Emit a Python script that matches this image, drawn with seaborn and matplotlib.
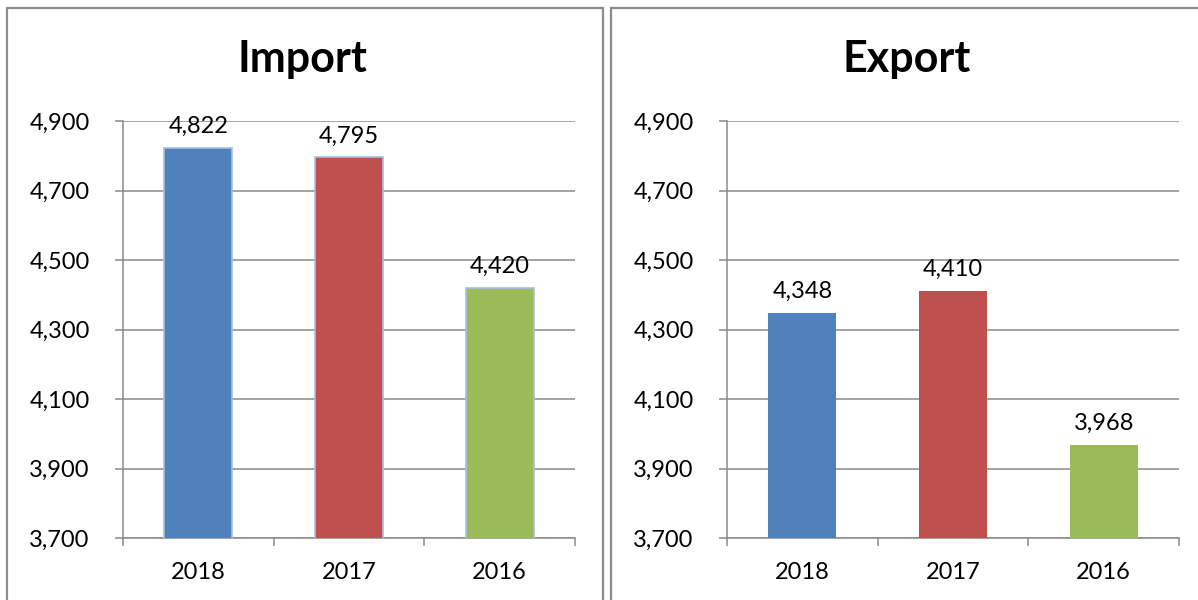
import pandas as pd
import seaborn as sns
import matplotlib.pyplot as plt
from matplotlib.patches import Rectangle
from matplotlib.ticker import FuncFormatter, FixedLocator

years = ["2018", "2017", "2016"]
import_vals = [4822, 4795, 4420]
export_vals = [4348, 4410, 3968]
y_ticks = [3700, 3900, 4100, 4300, 4500, 4700, 4900]
colors = ["#4f81bd", "#c0504d", "#9bbb59"]
panel_titles = ["Import", "Export"]

sns.set_theme(style="white")
plt.rcParams['font.family'] = ['Lato', 'DejaVu Sans']

fig = plt.figure(figsize=(11.98, 6.0), dpi=100)
W, H = 1198, 600

# panel frames
for x0 in (7, 611):
    fig.patches.append(Rectangle((x0 / W, 1 - 610 / H), 596 / W, 602 / H,
                                 transform=fig.transFigure, fill=False,
                                 edgecolor="#8c8c8c", linewidth=1.6, zorder=0))

axes = [fig.add_axes([123 / W, 1 - 538 / H, 452 / W, 417 / H]),
        fig.add_axes([727 / W, 1 - 538 / H, 452 / W, 417 / H])]

for ax, vals, title, cx, edge in zip(axes, [import_vals, export_vals], panel_titles,
                                     [302 / W, 907 / W], ["#a7bfe0", "none"]):
    df = pd.DataFrame({"year": years, "value": vals})
    sns.barplot(data=df, x="year", y="value", hue="year", palette=colors,
                saturation=1, legend=False, width=0.45, ax=ax, edgecolor=edge,
                linewidth=1.2 if edge != "none" else 0, zorder=3)
    ax.set_ylim(3700, 4900)
    ax.set_xlim(-0.5, 2.5)
    ax.set_yticks(y_ticks)
    ax.yaxis.set_major_formatter(FuncFormatter(lambda v, p: f"{int(v):,}"))
    ax.yaxis.grid(True, color="#8a8a8a", linewidth=1.1, zorder=0)
    ax.set_axisbelow(True)
    ax.set_xlabel("")
    ax.set_ylabel("")
    for s in ["top", "right"]:
        ax.spines[s].set_visible(False)
    for s in ["left", "bottom"]:
        ax.spines[s].set_color("#8a8a8a")
        ax.spines[s].set_linewidth(1.1)
    ax.tick_params(axis="y", direction="out", length=6, width=1.1, color="#8a8a8a",
                   pad=18, labelsize=17, left=True, labelcolor="black")
    ax.tick_params(axis="x", which="major", length=0, pad=17, labelsize=17,
                   labelcolor="black")
    ax.xaxis.set_minor_locator(FixedLocator([-0.5, 0.5, 1.5, 2.5]))
    ax.tick_params(axis="x", which="minor", direction="out", length=6, width=1.1,
                   color="#8a8a8a", bottom=True)
    for i, v in enumerate(vals):
        ax.annotate(f"{v:,}", (i, v), xytext=(0, 8), textcoords="offset points",
                    ha="center", va="bottom", fontsize=17, color="black")
    fig.text(cx, 1 - 59 / H, title, ha="center", va="center", fontsize=31,
             fontweight="bold", color="black")

fig.savefig("out.png", dpi=100)
